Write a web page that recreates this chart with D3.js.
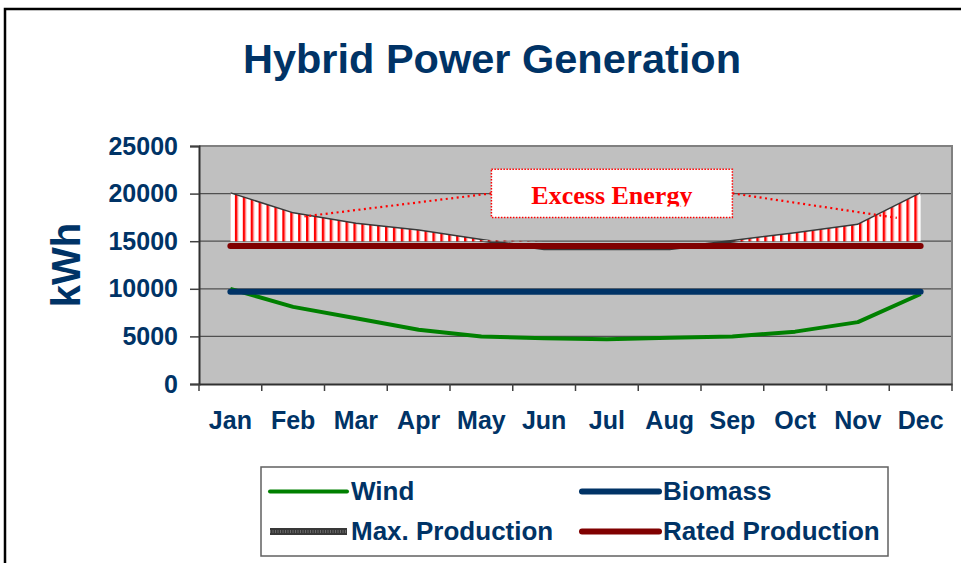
<!DOCTYPE html>
<html>
<head>
<meta charset="utf-8">
<script src="https://d3js.org/d3.v7.min.js"></script>
<style>
  body { margin: 0; background: #fff; }
  svg text { font-family: "Liberation Sans", Arial, sans-serif; font-weight: bold; }
</style>
</head>
<body>
<div id="chart"></div>
<script>
// values
var months = ["Jan", "Feb", "Mar", "Apr", "May", "Jun", "Jul", "Aug", "Sep", "Oct", "Nov", "Dec"];
var wind = [10000, 8100, 6900, 5700, 5000, 4800, 4700, 4850, 5000, 5500, 6500, 9450];
var biomass = [9700, 9700, 9700, 9700, 9700, 9700, 9700, 9700, 9700, 9700, 9700, 9700];
var maxProduction = [20000, 17900, 16800, 16100, 15100, 14200, 14200, 14200, 15000, 15800, 16700, 20000];
var ratedProduction = [14500, 14500, 14500, 14500, 14500, 14500, 14500, 14500, 14500, 14500, 14500, 14500];
var yTicks = [0, 5000, 10000, 15000, 20000, 25000];
var excessBase = 15000;

// annotation, in month index / kWh units
var calloutBox = { x0: 4.16, x1: 8.0, y0: 22550, y1: 17500, label: "Excess Energy" };
var calloutTargets = [{ i: 1.18, v: 17600 }, { i: 10.62, v: 17450 }];

var legendItems = [
    { name: "Wind", color: "#008000", width: 4 },
    { name: "Biomass", color: "#003366", width: 6 },
    { name: "Max. Production", color: "#383838", width: 7 },
    { name: "Rated Production", color: "#800000", width: 6 }
];

var W = 961, H = 563;
var navy = "#003366";
var plot = { left: 199, right: 952, top: 146, bottom: 384 };

var svg = d3.select("#chart").append("svg")
    .attr("width", W)
    .attr("height", H);

var defs = svg.append("defs");

// red vertical hatching for the excess area
var pat = defs.append("pattern")
    .attr("id", "hatch")
    .attr("patternUnits", "userSpaceOnUse")
    .attr("x", 227)
    .attr("y", 0)
    .attr("width", 7.9)
    .attr("height", 10);
pat.append("rect").attr("width", 7.9).attr("height", 10).attr("fill", "#fff");
pat.append("rect").attr("x", 0).attr("width", 2).attr("height", 10).attr("fill", "#ff0000");
pat.append("rect").attr("x", 2).attr("width", 1.3).attr("height", 10).attr("fill", "#ff7070");

defs.append("clipPath").attr("id", "labelClip")
    .append("rect")
    .attr("x", 0).attr("y", 0).attr("width", W).attr("height", 206.5);

// outer frame
svg.append("rect")
    .attr("x", 5).attr("y", 9)
    .attr("width", 1000).attr("height", 700)
    .attr("fill", "none")
    .attr("stroke", "#000")
    .attr("stroke-width", 2.5);

// title
svg.append("text")
    .attr("x", 492)
    .attr("y", 73)
    .attr("text-anchor", "middle")
    .style("font-size", "41.5px")
    .style("fill", navy)
    .text("Hybrid Power Generation");

var x = d3.scaleBand()
    .domain(months)
    .range([plot.left, plot.right])
    .padding(0);

// month index -> pixel (centre of each band)
var xi = d3.scaleLinear()
    .domain([0, 11])
    .range([x(months[0]) + x.bandwidth() / 2, x(months[11]) + x.bandwidth() / 2]);

var y = d3.scaleLinear()
    .domain([0, 25000])
    .range([plot.bottom, plot.top]);

// plot background
svg.append("rect")
    .attr("x", plot.left)
    .attr("y", plot.top)
    .attr("width", plot.right - plot.left)
    .attr("height", plot.bottom - plot.top)
    .attr("fill", "#c0c0c0");

// gridlines
svg.append("g")
    .selectAll("line")
    .data(yTicks.filter(function(d){ return d > 0 && d < 25000; }))
    .enter().append("line")
    .attr("x1", plot.left)
    .attr("x2", plot.right)
    .attr("y1", function(d){ return y(d); })
    .attr("y2", function(d){ return y(d); })
    .attr("stroke", "#505050")
    .attr("stroke-width", 1.2);

// plot border (top / right)
svg.append("path")
    .attr("d", "M" + plot.left + "," + plot.top + "H" + plot.right + "V" + plot.bottom)
    .attr("fill", "none")
    .attr("stroke", "#808080")
    .attr("stroke-width", 2);

// axes
var yAxis = svg.append("g")
    .attr("transform", "translate(" + plot.left + ",0)")
    .call(d3.axisLeft(y).tickValues(yTicks).tickFormat(d3.format("d")).tickSize(9).tickPadding(12));

var xAxis = svg.append("g")
    .attr("transform", "translate(0," + plot.bottom + ")")
    .call(d3.axisBottom(x).tickSize(0).tickPadding(27));

// ticks on band boundaries
xAxis.append("g")
    .selectAll("line")
    .data(months.concat(["end"]))
    .enter().append("line")
    .attr("x1", function(d, i){ return plot.left + i * x.bandwidth(); })
    .attr("x2", function(d, i){ return plot.left + i * x.bandwidth(); })
    .attr("y1", 0)
    .attr("y2", 7)
    .attr("stroke", "#404040")
    .attr("stroke-width", 1.5);

[yAxis, xAxis].forEach(function(ax){
    ax.select(".domain").attr("stroke", "#303030").attr("stroke-width", 2);
    ax.selectAll(".tick line").attr("stroke", "#404040").attr("stroke-width", 1.5);
    ax.selectAll("text")
        .style("font-size", "25px")
        .style("font-family", "'Liberation Sans', Arial, sans-serif")
        .style("font-weight", "bold")
        .attr("fill", navy);
});

// y axis title
svg.append("text")
    .attr("transform", "translate(80,265) rotate(-90)")
    .attr("text-anchor", "middle")
    .style("font-size", "40px")
    .style("fill", navy)
    .text("kWh");

// excess energy area (max production above 15000)
var area = d3.area()
    .x(function(d, i){ return xi(i); })
    .y0(y(excessBase))
    .y1(function(d){ return y(Math.max(d, excessBase)); });

var lineGen = d3.line()
    .x(function(d, i){ return xi(i); })
    .y(function(d){ return y(d); });

svg.append("path")
    .datum(maxProduction)
    .attr("d", lineGen)
    .attr("fill", "none")
    .attr("stroke", "#383838")
    .attr("stroke-width", 3);

svg.append("path")
    .datum(maxProduction)
    .attr("d", area)
    .attr("fill", "url(#hatch)");

svg.append("path")
    .datum(wind)
    .attr("d", lineGen)
    .attr("fill", "none")
    .attr("stroke", "#008000")
    .attr("stroke-width", 4)
    .attr("stroke-linejoin", "round");

svg.append("path")
    .datum(biomass)
    .attr("d", lineGen)
    .attr("fill", "none")
    .attr("stroke", "#003366")
    .attr("stroke-width", 6)
    .attr("stroke-linecap", "round");

svg.append("path")
    .datum(ratedProduction)
    .attr("d", lineGen)
    .attr("fill", "none")
    .attr("stroke", "#800000")
    .attr("stroke-width", 6)
    .attr("stroke-linecap", "round");

// callout leader lines
var bx0 = xi(calloutBox.x0), bx1 = xi(calloutBox.x1);
var by0 = y(calloutBox.y0), by1 = y(calloutBox.y1);
var bMid = (by0 + by1) / 2;

var leaders = [
    { x1: bx0, y1: bMid, x2: xi(calloutTargets[0].i), y2: y(calloutTargets[0].v) },
    { x1: bx1, y1: bMid, x2: xi(calloutTargets[1].i), y2: y(calloutTargets[1].v) }
];

svg.append("g")
    .selectAll("line")
    .data(leaders)
    .enter().append("line")
    .attr("x1", function(d){ return d.x1; })
    .attr("y1", function(d){ return d.y1; })
    .attr("x2", function(d){ return d.x2; })
    .attr("y2", function(d){ return d.y2; })
    .attr("stroke", "#ff0000")
    .attr("stroke-width", 2.2)
    .attr("stroke-dasharray", "2,3.5");

svg.append("rect")
    .attr("x", bx0)
    .attr("y", by0)
    .attr("width", bx1 - bx0)
    .attr("height", by1 - by0)
    .attr("fill", "#fff")
    .attr("stroke", "#ff0000")
    .attr("stroke-width", 1.5)
    .attr("stroke-dasharray", "1.5,1.5");

svg.append("text")
    .attr("x", (bx0 + bx1) / 2)
    .attr("y", 204)
    .attr("clip-path", "url(#labelClip)")
    .attr("text-anchor", "middle")
    .style("font-family", "'Liberation Serif', 'Times New Roman', serif")
    .style("font-size", "26px")
    .style("fill", "#ff0000")
    .text(calloutBox.label);

// legend
var legend = svg.append("g");

legend.append("rect")
    .attr("x", 261)
    .attr("y", 467)
    .attr("width", 627)
    .attr("height", 89)
    .attr("fill", "#fff")
    .attr("stroke", "#606060")
    .attr("stroke-width", 1.5);

var items = legend.selectAll("g.item")
    .data(legendItems)
    .enter().append("g")
    .attr("class", "item")
    .attr("transform", function(d, i){
        return "translate(" + (i % 2 === 0 ? 270 : 582) + "," + (i < 2 ? 491.5 : 531.5) + ")";
    });

items.append("line")
    .attr("x1", 0)
    .attr("x2", 77)
    .attr("stroke", function(d){ return d.color; })
    .attr("stroke-width", function(d){ return d.width; })
    .attr("stroke-linecap", function(d){ return d.name === "Max. Production" ? "butt" : "round"; });

items.filter(function(d){ return d.name === "Max. Production"; })
    .append("line")
    .attr("x1", 0)
    .attr("x2", 77)
    .attr("stroke", "#6a6a6a")
    .attr("stroke-width", 3)
    .attr("stroke-dasharray", "1,1.5");

items.append("text")
    .attr("x", 81)
    .attr("y", 8)
    .style("font-size", "26px")
    .style("fill", navy)
    .text(function(d){ return d.name; });
</script>
</body>
</html>
